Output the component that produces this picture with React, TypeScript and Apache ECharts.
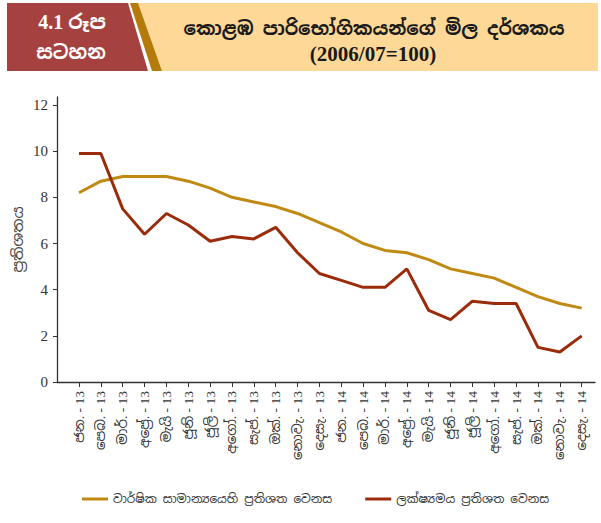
import React, { useEffect, useRef } from "react";
import * as echarts from "echarts";

const categories = [
  "ජන. - 13", "පෙබ. - 13", "මාර්. - 13", "අප්‍රේ. - 13", "මැයි - 13", "ජූනි - 13",
  "ජූලි - 13", "අගෝ. - 13", "සැප්. - 13", "ඔක්. - 13", "නොවැ. - 13", "දෙසැ. - 13",
  "ජන. - 14", "පෙබ. - 14", "මාර්. - 14", "අප්‍රේ. - 14", "මැයි - 14", "ජූනි - 14",
  "ජූලි - 14", "අගෝ. - 14", "සැප්. - 14", "ඔක්. - 14", "නොවැ. - 14", "දෙසැ. - 14",
];
const annualAverage = [8.2, 8.7, 8.9, 8.9, 8.9, 8.7, 8.4, 8.0, 7.8, 7.6, 7.3, 6.9, 6.5, 6.0, 5.7, 5.6, 5.3, 4.9, 4.7, 4.5, 4.1, 3.7, 3.4, 3.2];
const pointToPoint = [9.9, 9.9, 7.5, 6.4, 7.3, 6.8, 6.1, 6.3, 6.2, 6.7, 5.6, 4.7, 4.4, 4.1, 4.1, 4.9, 3.1, 2.7, 3.5, 3.4, 3.4, 1.5, 1.3, 2.0];
const seriesNames = ["වාර්ෂික සාමාන්‍යයෙහි ප්‍රතිශත වෙනස", "ලක්ෂ්‍යමය ප්‍රතිශත වෙනස"];
const yTicks = { min: 0, max: 12, interval: 2 };
const yAxisName = "ප්‍රතිශතය";
const headerNumber = "4.1 රූප";
const headerWord = "සටහන";
const titleLine1 = "කොළඹ පාරිභෝගිකයන්ගේ මිල දර්ශකය";
const titleLine2 = "(2006/07=100)";

const SINHALA = "'Noto Sans Sinhala', 'Noto Serif Sinhala', 'Iskoola Pota', 'Noto Sans', 'DejaVu Sans', sans-serif";
const SERIF = "'Liberation Serif', 'DejaVu Serif', 'Noto Sans Sinhala', serif";

export default function App() {
  const ref = useRef<HTMLDivElement>(null);
  useEffect(() => {
    if (!ref.current) return;
    const chart = echarts.init(ref.current, null, { renderer: "svg" });
    const axisColor = "#333";
    chart.setOption({
      animation: false,
      backgroundColor: "#fff",
      graphic: [
        { type: "polygon", shape: { points: [[138, 3], [598, 3], [598, 71], [162, 71]] }, style: { fill: "#FDD896" } },
        { type: "polygon", shape: { points: [[130, 3], [138, 3], [162, 71], [152, 71]] }, style: { fill: "#B47B0A" } },
        { type: "polygon", shape: { points: [[7, 3], [128, 3], [148, 71], [7, 71]] }, style: { fill: "#A5423F" } },
        { type: "text", x: 72, y: 22, style: { text: headerNumber, fill: "#fff", font: `bold 20px ${SERIF}`, textAlign: "center", textVerticalAlign: "middle" } },
        { type: "text", x: 71, y: 52, style: { text: headerWord, fill: "#fff", font: `bold 19px ${SINHALA}`, textAlign: "center", textVerticalAlign: "middle" } },
        { type: "text", x: 374, y: 28, style: { text: titleLine1, fill: "#1a1a1a", font: `bold 18.5px ${SINHALA}`, textAlign: "center", textVerticalAlign: "middle" } },
        { type: "text", x: 373, y: 54, style: { text: titleLine2, fill: "#1a1a1a", font: `bold 21px ${SERIF}`, textAlign: "center", textVerticalAlign: "middle" } },
      ],
      legend: {
        left: 77,
        top: 488,
        icon: "rect",
        itemWidth: 26,
        itemHeight: 3,
        itemGap: 33,
        data: seriesNames,
        textStyle: { fontSize: 12, color: "#333", fontFamily: SINHALA },
      },
      grid: [
        { left: 57, right: 6, top: 97, bottom: 141, containLabel: false },
        { left: 79, right: 19.3, top: 105, bottom: 141, containLabel: false },
      ],
      xAxis: [
        {
          gridIndex: 0, type: "value", min: 0, max: 1,
          axisLine: { show: true, lineStyle: { color: axisColor, width: 1.3 } },
          axisTick: { show: false }, axisLabel: { show: false }, splitLine: { show: false },
        },
        {
          gridIndex: 1, type: "category", boundaryGap: false, data: categories,
          axisLine: { show: false },
          axisTick: { show: true, length: 5, lineStyle: { color: axisColor } },
          axisLabel: { rotate: 90, margin: 9, fontSize: 13.5, color: "#333", fontFamily: SERIF, interval: 0 },
          splitLine: { show: false },
        },
      ],
      yAxis: [
        {
          gridIndex: 0, type: "value", min: 0, max: 1,
          axisLine: { show: true, lineStyle: { color: axisColor, width: 1.3 } },
          axisTick: { show: false }, axisLabel: { show: false }, splitLine: { show: false },
          name: yAxisName, nameLocation: "middle", nameGap: 32, nameRotate: 90,
          nameTextStyle: { fontSize: 15, color: "#444", fontFamily: SINHALA },
        },
        {
          gridIndex: 1, type: "value", min: yTicks.min, max: yTicks.max, interval: yTicks.interval,
          offset: 22,
          axisLine: { show: false },
          axisTick: { show: true, length: 4, lineStyle: { color: axisColor } },
          axisLabel: { margin: 9, fontSize: 15, color: "#333", fontFamily: SERIF },
          splitLine: { show: false },
        },
      ],
      series: [
        {
          name: seriesNames[0], type: "line", xAxisIndex: 1, yAxisIndex: 1,
          data: annualAverage, symbol: "none", color: "#C08A12",
          lineStyle: { width: 3, color: "#C08A12" },
        },
        {
          name: seriesNames[1], type: "line", xAxisIndex: 1, yAxisIndex: 1,
          data: pointToPoint, symbol: "none", color: "#9A2C0C",
          lineStyle: { width: 3, color: "#9A2C0C" },
        },
      ],
    });
    return () => chart.dispose();
  }, []);
  return <div ref={ref} style={{ position: "fixed", left: 0, top: 0, width: 601, height: 523 }} />;
}
